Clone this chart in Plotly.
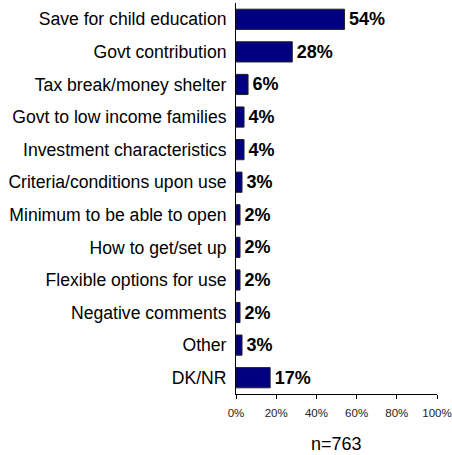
import plotly.graph_objects as go

# Reasons mentioned, share of respondents (%)
categories = [
    "Save for child education",
    "Govt contribution",
    "Tax break/money shelter",
    "Govt to low income families",
    "Investment characteristics",
    "Criteria/conditions upon use",
    "Minimum to be able to open",
    "How to get/set up",
    "Flexible options for use",
    "Negative comments",
    "Other",
    "DK/NR",
]
values = [54, 28, 6, 4, 4, 3, 2, 2, 2, 2, 3, 17]
x_ticks = [0, 20, 40, 60, 80, 100]
sample_note = "n=763"

FONT = "Liberation Sans, Arial"

fig = go.Figure(
    go.Bar(
        x=values,
        y=categories,
        orientation="h",
        width=0.62,
        marker=dict(color="#000080", line=dict(color="#222222", width=1)),
        text=[f"{v}%" for v in values],
        textposition="outside",
        constraintext="none",
        textfont=dict(family=FONT, size=18, color="black"),
        texttemplate="<b>\u200a%{text}</b>",
        cliponaxis=False,
    )
)

fig.update_layout(
    width=452,
    height=455,
    margin=dict(l=236, r=15, t=3, b=61),
    paper_bgcolor="white",
    plot_bgcolor="white",
    showlegend=False,
    font=dict(family=FONT, color="black"),
    xaxis=dict(
        range=[0, 100],
        tickvals=x_ticks,
        ticktext=[f"{t}%" for t in x_ticks],
        ticks="outside",
        ticklen=4,
        tickcolor="black",
        showline=True,
        linecolor="black",
        linewidth=1,
        showgrid=False,
        zeroline=False,
        automargin=False,
        ticklabelstandoff=4,
        tickfont=dict(family=FONT, size=11.5, color="#222"),
        fixedrange=True,
    ),
    yaxis=dict(
        autorange="reversed",
        showline=True,
        linecolor="black",
        linewidth=1,
        showgrid=False,
        ticks="",
        ticklabelstandoff=5,
        automargin=False,
        tickfont=dict(family=FONT, size=17.6, color="black"),
        fixedrange=True,
    ),
    annotations=[
        dict(
            text=sample_note,
            x=0.5,
            xref="paper",
            y=-(444 - 394) / 391,
            yref="paper",
            yanchor="middle",
            showarrow=False,
            font=dict(family=FONT, size=18, color="black"),
        )
    ],
)

fig.write_html("out.html")
